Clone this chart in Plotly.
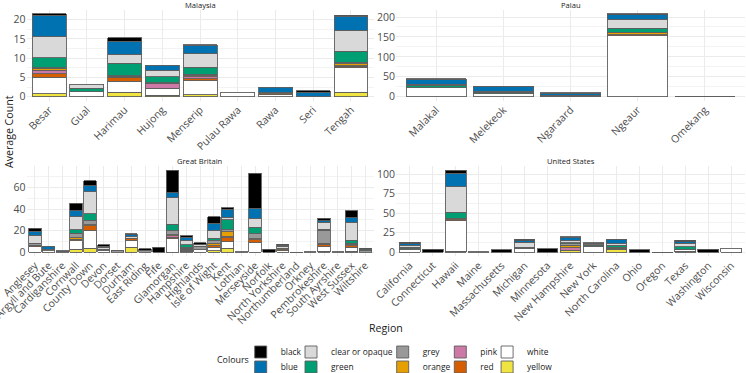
import plotly.graph_objects as go
import numpy as np

# ---------------- data ----------------
COLOURS = ["black", "blue", "clear or opaque", "green", "grey",
           "orange", "pink", "red", "white", "yellow"]
FILLS = ["#000000", "#0072B2", "#D9D9D9", "#009E73", "#999999",
         "#E69F00", "#CC79A7", "#D55E00", "#FFFFFF", "#F0E442"]

MALAYSIA_REGIONS = ["Besar", "Gual", "Harimau", "Hujong", "Menserip",
                    "Pulau Rawa", "Rawa", "Seri", "Tengah"]
MALAYSIA = {
    "yellow":          [0.8, 0, 1.1, 0.4, 0.5, 0, 0, 0, 1.1],
    "white":           [4.2, 1.3, 2.95, 1.6, 3.7, 1.1, 0.45, 0, 6.4],
    "red":             [0.9, 0, 0.95, 0.2, 0.5, 0, 0.3, 0, 0.45],
    "pink":            [0.95, 0, 0, 1.1, 0.45, 0, 0, 0, 0.1],
    "orange":          [0.6, 0, 0.35, 0.2, 0.3, 0, 0.3, 0, 0.45],
    "grey":            [0.1, 0, 0.1, 0.1, 0.35, 0, 0, 0, 0.45],
    "green":           [2.6, 0.9, 3.2, 1.6, 1.9, 0, 0, 0, 2.8],
    "clear or opaque": [5.4, 1.0, 2.4, 1.7, 3.4, 0, 0, 0, 5.5],
    "blue":            [5.65, 0, 3.3, 1.3, 2.3, 0, 1.35, 1.1, 3.65],
    "black":           [0.3, 0, 1.0, 0, 0.1, 0, 0, 0.5, 0.25],
}

PALAU_REGIONS = ["Malakal", "Melekeok", "Ngaraard", "Ngeaur", "Omekang"]
PALAU = {
    "yellow":          [0, 0, 0, 0, 0],
    "white":           [23, 7, 1, 153, 0],
    "red":             [0, 0, 0, 3, 0],
    "pink":            [0, 0, 0, 0, 0],
    "orange":          [0, 0, 0, 5.5, 0],
    "grey":            [0, 0, 0, 0, 0],
    "green":           [6, 4, 3, 10, 0],
    "clear or opaque": [2, 2, 0, 23, 0],
    "blue":            [13, 12, 5, 11.5, 0],
    "black":           [1, 1, 1, 1.8, 0.4],
}

GB_REGIONS = ["Anglesey", "Argyll and Bute", "Cardiganshire", "Cornwall",
              "County Down", "Devon", "Dorset", "Durham", "East Riding", "Fife",
              "Glamorgan", "Hampshire", "Highlands", "Isle of Wight", "Kent",
              "Lothian", "Merseyside", "Norfolk", "North Yorkshire",
              "Northumberland", "Orkney", "Pembrokeshire", "South Ayrshire",
              "West Sussex", "Wiltshire"]
GB = {
    "yellow":          [0, 0, 0, 2.8, 3.7, 0, 0, 4.9, 0, 0, 0, 0.8, 0, 1.3, 3.7,
                        0, 0, 0, 0, 0, 0, 1.0, 0, 0.8, 0],
    "white":           [5.2, 1.5, 0, 7.7, 16.3, 1.5, 0, 6.0, 0, 0, 12.5, 1.0, 2.5,
                        3.2, 6.0, 0, 8.8, 0, 1.5, 0, 0, 4.0, 0, 3.7, 0],
    "red":             [1.2, 0, 0, 1.8, 4.5, 0, 0, 1.5, 0, 0, 1.5, 1.2, 0, 1.8,
                        3.8, 0, 2.8, 0, 0.8, 0, 0, 2.0, 0, 1.5, 0],
    "pink":            [0, 0, 0, 0, 0, 0, 0, 0, 0, 0, 1.5, 0.4, 0, 0, 1.0, 0, 0,
                        0, 0, 0, 0, 0.5, 0, 0, 0],
    "orange":          [0.3, 0, 0, 1.3, 1.0, 0, 0, 0, 0, 0, 1.0, 0.3, 0, 1.7, 4.5,
                        0, 1.0, 0, 0.8, 0, 0, 1.0, 0, 1.2, 0],
    "grey":            [1.3, 0, 0, 4.0, 4.2, 1.5, 1.5, 0.8, 1.5, 0, 3.5, 0.9, 3.0,
                        3.0, 2.0, 0, 4.4, 0, 0.5, 0, 0, 11.8, 0, 1.3, 1.5],
    "green":           [0.5, 0, 0, 3.1, 6.1, 0, 0, 0, 0, 0, 6.0, 2.2, 0, 2.0, 9.0,
                        0, 6.2, 0, 0, 0, 0, 0.9, 0, 2.5, 0.8],
    "clear or opaque": [7.3, 1.5, 0, 12.4, 20.5, 1.8, 0, 1.0, 0.5, 0, 24.7, 4.0,
                        1.3, 6.8, 2.5, 0.3, 7.7, 0, 1.8, 0.2, 0, 6.8, 0.3, 16.9, 0],
    "blue":            [3.7, 2.8, 1.2, 5.2, 5.3, 1.0, 0, 2.0, 0, 0, 4.7, 3.1, 0,
                        7.1, 7.5, 0, 10.0, 0, 1.0, 0, 0, 1.2, 0, 4.2, 0.7],
    "black":           [2.8, 0, 0.3, 7.2, 4.9, 1.0, 0.6, 1.1, 1.1, 4.6, 20.4, 1.5,
                        2.1, 6.2, 1.4, 0, 32.4, 2.8, 1.0, 0, 0.5, 2.4, 0, 6.5, 0.7],
}

US_REGIONS = ["California", "Connecticut", "Hawaii", "Maine", "Massachusetts",
              "Michigan", "Minnesota", "New Hampshire", "New York",
              "North Carolina", "Ohio", "Oregon", "Texas", "Washington",
              "Wisconsin"]
US = {
    "yellow":          [0, 0, 1.5, 0, 0, 0, 0, 1.8, 0, 4.2, 0, 0, 1.5, 0, 0],
    "white":           [3.5, 0, 38.6, 0, 0, 5.0, 0, 0.5, 7.5, 0.8, 0, 0, 1.5, 0, 5.0],
    "red":             [0, 0, 1.5, 0, 0, 0, 0, 0.6, 0, 0, 0, 0, 0, 0, 0],
    "pink":            [0, 0, 0, 0, 0, 0, 0, 2.8, 0, 0, 0, 0, 0, 0, 0],
    "orange":          [0, 0, 2.0, 0, 0, 0, 0, 3.6, 0, 0, 0, 0, 0, 0, 0],
    "grey":            [1.0, 0, 0, 0, 0, 1.5, 0, 1.5, 0.8, 1.2, 0, 0, 0.8, 0, 0],
    "green":           [2.0, 0, 7.7, 0, 0, 0, 0, 1.2, 1.5, 2.8, 0, 0, 3.0, 0, 0],
    "clear or opaque": [2.0, 0, 32.8, 0, 0, 6.5, 0, 2.5, 1.8, 2.0, 0, 0, 4.5, 0, 0],
    "blue":            [2.3, 0, 17.2, 0, 0, 1.5, 0, 4.5, 0, 5.0, 0, 0, 2.2, 0, 0],
    "black":           [2.0, 3.8, 3.3, 0.5, 3.0, 2.2, 4.6, 1.0, 0.7, 0.7, 3.3, 0.4,
                        1.9, 4.0, 0],
}

FACET_TITLES = ["Malaysia", "Palau", "Great Britain", "United States"]
Y_DTICK = [5, 50, 20, 25]

# ---------------- layout geometry (pixels of the 746x373 page) ----------------
W, H = 746, 373
X_DOM = [[26.6 / W, 373.6 / W], [396 / W, 745 / W]]
Y_DOM = [[1 - 100.8 / H, 1 - 9.8 / H], [1 - 256.4 / H, 1 - 166.4 / H]]

facets = [(MALAYSIA_REGIONS, MALAYSIA), (PALAU_REGIONS, PALAU),
          (GB_REGIONS, GB), (US_REGIONS, US)]

stack_order = list(reversed(COLOURS))          # bottom -> top
legend_keys = ["legend"] + ["legend%d" % (k + 1) for k in range(1, len(COLOURS))]

fig = go.Figure()
layout = dict(
    template="none",
    width=W, height=H, margin=dict(l=0, r=0, t=0, b=0, autoexpand=False),
    paper_bgcolor="white", plot_bgcolor="white",
    barmode="stack", bargap=0.1,
    font=dict(family="Open Sans, Verdana, Arial, sans-serif", color="#1A1A1A"),
    showlegend=True,
)

grid = "#EBEBEB"
annotations = []
for i, (regions, data) in enumerate(facets):
    ax = "" if i == 0 else str(i + 1)
    row, col = divmod(i, 2)
    for colour in stack_order:
        ci = COLOURS.index(colour)
        vals = [v if v > 0 else None for v in data[colour]]
        fig.add_trace(go.Bar(
            x=regions, y=vals, name=colour,
            xaxis="x" + ax, yaxis="y" + ax,
            width=0.9,
            marker=dict(color=FILLS[ci], line=dict(color="#5E5E5E", width=0.9)),
            legendgroup=colour, showlegend=(i == 0),
            legend=legend_keys[ci],
            hovertemplate="%{x}<br>" + colour + ": %{y}<extra></extra>",
        ))
    totals = np.sum([np.array(data[c], dtype=float) for c in COLOURS], axis=0)
    top = totals.max()
    n = len(regions)
    layout["xaxis" + ax] = dict(
        domain=X_DOM[col], anchor="y" + ax, type="category",
        categoryorder="array", categoryarray=regions, automargin=False,
        range=[-0.6, n - 0.4], tickangle=-45, showgrid=True,
        gridcolor=grid, gridwidth=1, ticks="", zeroline=False, showline=False,
        tickfont=dict(size=10.5, color="#4D4D4D"), fixedrange=True,
    )
    d = Y_DTICK[i]
    layout["yaxis" + ax] = dict(
        domain=Y_DOM[row], anchor="x" + ax, automargin=False,
        range=[-0.05 * top, 1.05 * top], tick0=0, dtick=d,
        showgrid=True, gridcolor=grid, gridwidth=1, zeroline=False,
        showline=False, ticks="", tickfont=dict(size=10.5, color="#4D4D4D"),
        minor=dict(dtick=d / 2, tick0=0, showgrid=True, gridcolor="#F3F3F3",
                   gridwidth=0.6),
        fixedrange=True,
    )
    annotations.append(dict(
        text=FACET_TITLES[i], xref="paper", yref="paper",
        x=sum(X_DOM[col]) / 2, y=Y_DOM[row][1] + 5.2 / H,
        xanchor="center", yanchor="middle", showarrow=False,
        font=dict(size=7.6, color="#1A1A1A"),
    ))

annotations.append(dict(text="Average Count", xref="paper", yref="paper",
                        x=9 / W, y=1 - 132 / H, textangle=-90, showarrow=False,
                        xanchor="center", yanchor="middle",
                        font=dict(size=10.6, color="#1A1A1A")))
annotations.append(dict(text="Region", xref="paper", yref="paper",
                        x=385.8 / W, y=1 - 328 / H, showarrow=False,
                        xanchor="center", yanchor="middle",
                        font=dict(size=10.6, color="#1A1A1A")))

# legend: 5 columns x 2 rows, one single-entry legend per colour
col_centres = [260.7, 311.0, 402.7, 460.3, 507.1]
row_centres = [352.0, 367.0]
for ci, key in enumerate(legend_keys):
    c, r = divmod(ci, 2)
    layout[key] = dict(
        x=(col_centres[c] - 20) / W, y=1 - row_centres[r] / H,
        xanchor="left", yanchor="middle", orientation="v",
        traceorder="normal", tracegroupgap=0,
        bgcolor="rgba(0,0,0,0)", borderwidth=0,
        font=dict(size=8.4, color="#1A1A1A"),
    )
annotations.append(dict(text="Colours", xref="paper", yref="paper",
                        x=(col_centres[0] - 10) / W, y=1 - 359.5 / H,
                        showarrow=False, xanchor="right", yanchor="middle",
                        font=dict(size=8.9, color="#1A1A1A")))

layout["annotations"] = annotations
fig.update_layout(**layout)
fig.write_html("out.html")
